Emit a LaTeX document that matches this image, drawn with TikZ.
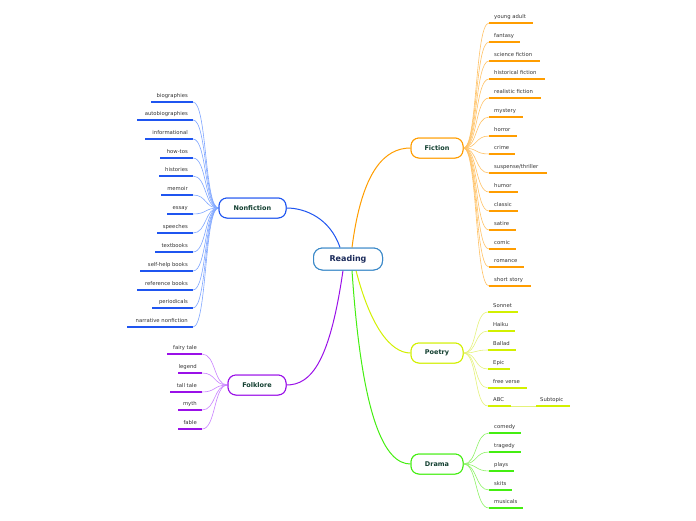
\documentclass[tikz,border=0pt]{standalone}
\usepackage{fontspec}
\setmainfont{DejaVu Sans}
\definecolor{readB}{HTML}{3A88C8}
\definecolor{readT}{HTML}{1A2A5A}
\definecolor{nodeT}{HTML}{123F30}
\definecolor{leafT}{HTML}{333333}
\definecolor{ficA}{HTML}{FF9D00}
\definecolor{ficB}{HTML}{FFC266}
\definecolor{nonA}{HTML}{1F55F0}
\definecolor{nonB}{HTML}{7FA6FF}
\definecolor{poeA}{HTML}{D2F000}
\definecolor{poeB}{HTML}{E4F27A}
\definecolor{draA}{HTML}{44EE11}
\definecolor{draB}{HTML}{8DF266}
\definecolor{folA}{HTML}{9A10E8}
\definecolor{folB}{HTML}{C982FF}
\begin{document}
\begin{tikzpicture}[x=1pt,y=-1pt,
  topic/.style={draw, line width=1pt, rounded corners=8pt, fill=white, inner sep=0pt,
    minimum height=20pt, text=nodeT, font=\fontsize{6.5}{8}\selectfont\bfseries},
  central/.style={draw=readB, line width=1pt, rounded corners=9pt, fill=white, inner sep=0pt,
    minimum height=22pt, minimum width=69pt, text=readT, font=\fontsize{8}{10}\selectfont\bfseries},
  leaf/.style={inner sep=0pt, text=leafT, font=\fontsize{5.3}{6}\selectfont},
  uline/.style={line width=1.5pt},
  twig/.style={line width=0.6pt},
  bough/.style={line width=1pt}]
\useasboundingbox (0,0) rectangle (696,520);

% main topics
\node[central] (read) at (348,259) {Reading};
\node[topic, draw=ficA, minimum width=52pt] (fic) at (437,148) {Fiction};
\node[topic, draw=nonA, minimum width=67pt] (non) at (252.5,208) {Nonfiction};
\node[topic, draw=poeA, minimum width=52pt] (poe) at (437,353) {Poetry};
\node[topic, draw=draA, minimum width=52pt] (dra) at (437,464) {Drama};
\node[topic, draw=folA, minimum width=58pt] (fol) at (257,385) {Folklore};

% main boughs
\draw[bough, ficA] ([xshift=4pt]read.north) .. controls (362,170) and (385,148) .. (fic.west);
\draw[bough, nonA] ([xshift=-8pt]read.north) .. controls (330,218) and (305,208) .. (non.east);
\draw[bough, poeA] ([xshift=8pt]read.south) .. controls (370,325) and (390,353) .. (poe.west);
\draw[bough, draA] ([xshift=4pt]read.south) .. controls (362,420) and (385,464) .. (dra.west);
\draw[bough, folA] ([xshift=-5pt]read.south) .. controls (330,360) and (312,385) .. (fol.east);
\node[central] at (read) {Reading};

% Fiction leaves
\foreach \t/\y/\e [count=\i] in {young adult/23/533, fantasy/42/520, science fiction/61/540,
  historical fiction/79/545, realistic fiction/98/541, mystery/117/523, horror/136/517,
  crime/154/515, {suspense/thriller}/173/547, humor/192/518, classic/211/518, satire/230/516,
  comic/249/516, romance/267/524, short story/286/531}{
  \coordinate (fs\i) at (489,\y);
  \coordinate (fe\i) at (\e,\y);
  \node[leaf, anchor=base west] (f\i) at (494,\y-5) {\t};
  \draw[uline, ficA] (fs\i) -- (fe\i);
  \draw[twig, ficB] (fic.east) .. controls +(14,0) and +(-14,0) .. (fs\i);
}

% Nonfiction leaves
\foreach \t/\y/\s [count=\i] in {biographies/102/151, autobiographies/120/137, informational/139/145,
  how-tos/158/160, histories/176/159, memoir/195/161, essay/214/167, speeches/233/157,
  textbooks/252/155, self-help books/271/140, reference books/290/137, periodicals/308/152,
  narrative nonfiction/327/127}{
  \coordinate (ns\i) at (\s,\y);
  \coordinate (ne\i) at (193,\y);
  \node[leaf, anchor=base east] (n\i) at (188,\y-5) {\t};
  \draw[uline, nonA] (ns\i) -- (ne\i);
  \draw[twig, nonB] (non.west) .. controls +(-14,0) and +(14,0) .. (ne\i);
}

% Poetry leaves
\foreach \t/\y/\e [count=\i] in {Sonnet/312/518, Haiku/331/515, Ballad/350/516, Epic/369/510,
  free verse/388/527, ABC/406/511}{
  \coordinate (ps\i) at (488,\y);
  \coordinate (pe\i) at (\e,\y);
  \node[leaf, anchor=base west] (p\i) at (493,\y-5) {\t};
  \draw[uline, poeA] (ps\i) -- (pe\i);
  \draw[twig, poeB] (poe.east) .. controls +(14,0) and +(-14,0) .. (ps\i);
}
\coordinate (ss) at (536,406);
\coordinate (se) at (570,406);
\node[leaf, anchor=base west] (sub) at (540,401) {Subtopic};
\draw[uline, poeA] (ss) -- (se);
\draw[twig, poeB] (pe6) -- (ss);

% Drama leaves
\foreach \t/\y/\e [count=\i] in {comedy/433/521, tragedy/452/521, plays/471/514, skits/490/512,
  musicals/508/523}{
  \coordinate (ds\i) at (489,\y);
  \coordinate (de\i) at (\e,\y);
  \node[leaf, anchor=base west] (d\i) at (494,\y-5) {\t};
  \draw[uline, draA] (ds\i) -- (de\i);
  \draw[twig, draB] (dra.east) .. controls +(14,0) and +(-14,0) .. (ds\i);
}

% Folklore leaves
\foreach \t/\y/\s [count=\i] in {fairy tale/354/167, legend/373/178, tall tale/392/170,
  myth/410/178, fable/429/178}{
  \coordinate (ls\i) at (\s,\y);
  \coordinate (le\i) at (202,\y);
  \node[leaf, anchor=base east] (l\i) at (197,\y-5) {\t};
  \draw[uline, folA] (ls\i) -- (le\i);
  \draw[twig, folB] (fol.west) .. controls +(-14,0) and +(14,0) .. (le\i);
}

% redraw topic nodes on top
\node[topic, draw=ficA, minimum width=52pt] at (fic) {Fiction};
\node[topic, draw=nonA, minimum width=67pt] at (non) {Nonfiction};
\node[topic, draw=poeA, minimum width=52pt] at (poe) {Poetry};
\node[topic, draw=draA, minimum width=52pt] at (dra) {Drama};
\node[topic, draw=folA, minimum width=58pt] at (fol) {Folklore};
\end{tikzpicture}
\end{document}
